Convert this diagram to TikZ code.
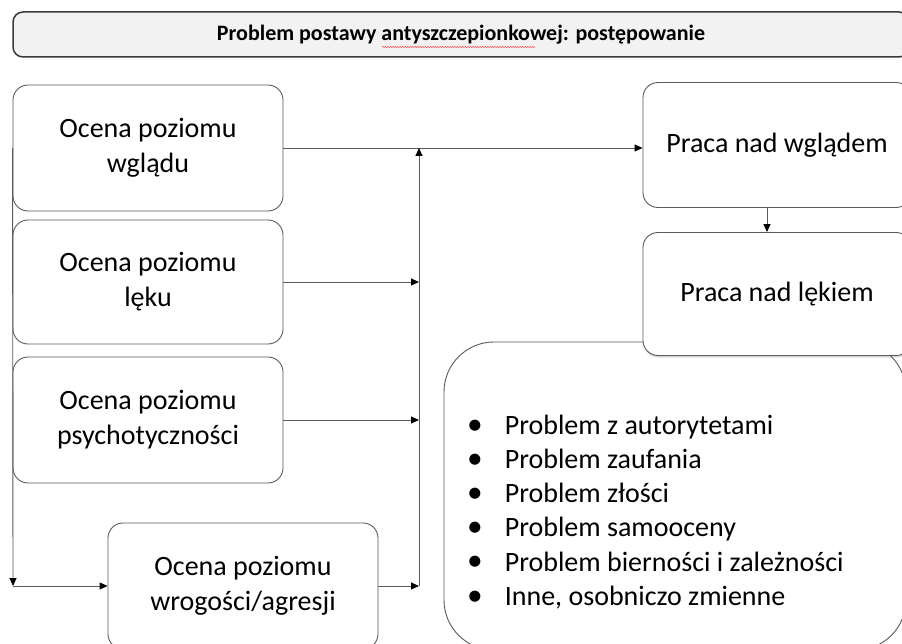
\documentclass[tikz,border=0pt]{standalone}
\usepackage{fontspec}
\setmainfont{Carlito}
\usetikzlibrary{arrows.meta,shadows,decorations.pathmorphing}
\definecolor{edge}{HTML}{5A5A5A}
\definecolor{titlefill}{HTML}{F2F2F2}
\definecolor{titleedge}{HTML}{3A3A3A}
\tikzset{
  box/.style={draw=edge, line width=0.9pt, fill=white, rounded corners=15pt,
    align=center, font=\fontsize{28}{35}\selectfont, inner sep=0pt},
  titlebox/.style={draw=titleedge, line width=1.5pt, fill=titlefill, rounded corners=10pt,
    inner sep=0pt, font=\bfseries\fontsize{22}{26}\selectfont},
  arr/.style={draw=edge, line width=0.9pt, -{Triangle[length=8pt,width=7pt,color=black]}},
  bigbox/.style={draw=edge, line width=0.9pt, fill=white, rounded corners=50pt, inner sep=0pt},
  spellmark/.style={draw=red!75, line width=0.5pt, decorate,
    decoration={snake, amplitude=0.6pt, segment length=2.5pt}},
}
\newcommand{\bigbul}{\raisebox{0.3pt}{\scalebox{1.12}{\textbullet}}}
\begin{document}
\begin{tikzpicture}[x=1pt,y=-1pt]
\clip (0,0) rectangle (902,644);
\fill[white] (0,0) rectangle (902,644);

% title
\node[titlebox, minimum width=896pt, minimum height=45pt] (title) at (461,34.5)
  {Problem postawy antyszczepionkowej: postępowanie};
\draw[spellmark] ([shift={(-79,12.5)}]title.center) -- ([shift={(74,12.5)}]title.center);

% big list box (drawn first, partly under "Praca nad lękiem")
\node[bigbox, minimum width=462pt, minimum height=308pt] (big) at (675,496) {};
\node[anchor=west, inner sep=0pt, font=\fontsize{28}{34.2}\selectfont] (list) at (467,513)
  {\begin{tabular}{@{}l@{\hspace{22pt}}l@{}}
   \bigbul & Problem z autorytetami\\
   \bigbul & Problem zaufania\\
   \bigbul & Problem złości\\
   \bigbul & Problem samooceny\\
   \bigbul & Problem bierności i zależności\\
   \bigbul & Inne, osobniczo zmienne
   \end{tabular}};

% left boxes
\node[box, minimum width=270pt, minimum height=126pt] (b1) at (148,148) {Ocena poziomu\\wglądu};
\node[box, minimum width=270pt, minimum height=124pt] (b2) at (148,282) {Ocena poziomu\\lęku};
\node[box, minimum width=270pt, minimum height=126pt] (b3) at (148,420) {Ocena poziomu\\psychotyczności};
\node[box, minimum width=270pt, minimum height=126pt] (b4) at (243,586) {Ocena poziomu\\wrogości/agresji};

% right boxes
\node[box, minimum width=268pt, minimum height=125pt] (wg) at (777,145) {Praca nad wglądem};
\node[box, minimum width=268pt, minimum height=123pt,
  drop shadow={shadow xshift=0.5pt, shadow yshift=-2pt, opacity=0.3}] (lk) at (777,294) {Praca nad lękiem};

% junction coordinates
\coordinate (jt) at (419,148);
\coordinate (jb) at (419,586);
\coordinate (L) at (13,586);

% connectors
\draw[edge, line width=0.9pt] (b1.east) -- (jt);
\draw[arr] (jt) -- (b1.east -| wg.west);
\draw[arr] (jb) -- (jt);
\draw[arr] (b2.east) -- (b2.east -| jt);
\draw[arr] (b3.east) -- (b3.east -| jt);
\draw[arr] (b4.east) -- (jb);
\draw[arr] (b1.west) -- (L);
\draw[arr] (L) -- (b4.west);
\draw[arr] ([xshift=-10pt]wg.south) -- ([xshift=-10pt]lk.north);
\end{tikzpicture}
\end{document}
